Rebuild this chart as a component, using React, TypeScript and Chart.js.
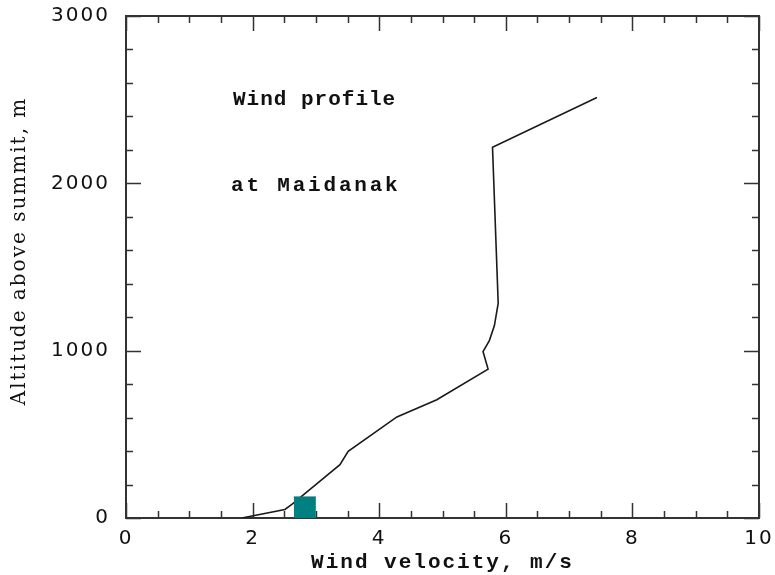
import { useEffect, useRef } from 'react';
import { Chart, registerables } from 'chart.js';

Chart.register(...registerables);

// Wind profile (m/s) vs altitude above summit (m)
const windSpeed = [1.83, 2.51, 2.62, 3.38, 3.51, 4.28, 4.91, 5.72, 5.64, 5.74, 5.82, 5.88, 5.79, 7.44];
const altitude = [0, 51, 81, 319, 399, 604, 707, 890, 995, 1060, 1150, 1284, 2215, 2513];

// Filled square marker near the ground (top edge, filled down to the axis)
const markerSpeed = [2.65, 3.0];
const markerAltitude = [126, 126];

const xMin = 0;
const xMax = 10;
const xMajorStep = 2;
const xMinorStep = 0.5;
const yMin = 0;
const yMax = 3000;
const yMajorStep = 1000;
const yMinorStep = 200;

const xTitle = 'Wind velocity, m/s';
const yTitle = 'Altitude above summit, m';
const noteLines = ['Wind profile', 'at Maidanak'];
const noteSpeed = [1.69, 1.66];
const noteAltitude = [2497, 1984];
const noteSpacing = ['1px', '2.8px'];

const AXIS_COLOR = '#333333';

const framePlugin = {
  id: 'frameTicks',
  beforeDraw(chart: any) {
    chart.ctx.letterSpacing = '2px';
  },
  beforeDatasetsDraw(chart: any) {
    const { ctx, chartArea: a, scales } = chart;
    const xs = scales.x;
    const ys = scales.y;
    ctx.save();
    ctx.strokeStyle = AXIS_COLOR;
    ctx.lineWidth = 2;
    ctx.strokeRect(a.left, a.top, a.right - a.left, a.bottom - a.top);
    ctx.lineWidth = 1.5;
    ctx.beginPath();
    for (let v = xMin; v <= xMax + 1e-9; v += xMinorStep) {
      const major = Math.abs(v / xMajorStep - Math.round(v / xMajorStep)) < 1e-6;
      const len = major ? 15 : 7;
      const px = Math.round(xs.getPixelForValue(v)) + 0.5;
      ctx.moveTo(px, a.bottom);
      ctx.lineTo(px, a.bottom - len);
      ctx.moveTo(px, a.top);
      ctx.lineTo(px, a.top + len);
    }
    for (let v = yMin; v <= yMax + 1e-9; v += yMinorStep) {
      const major = Math.abs(v / yMajorStep - Math.round(v / yMajorStep)) < 1e-6;
      const len = major ? 15 : 7;
      const py = Math.round(ys.getPixelForValue(v)) + 0.5;
      ctx.moveTo(a.left, py);
      ctx.lineTo(a.left + len, py);
      ctx.moveTo(a.right, py);
      ctx.lineTo(a.right - len, py);
    }
    ctx.stroke();
    ctx.restore();
  },
  afterDraw(chart: any) {
    const { ctx, scales } = chart;
    const xs = scales.x;
    const ys = scales.y;
    ctx.save();
    ctx.fillStyle = '#111';
    ctx.font = 'bold 21px "Liberation Mono"';
    ctx.textBaseline = 'middle';
    ctx.textAlign = 'left';
    noteLines.forEach((t, i) => {
      ctx.letterSpacing = noteSpacing[i];
      ctx.fillText(t, xs.getPixelForValue(noteSpeed[i]), ys.getPixelForValue(noteAltitude[i]));
    });

    // y-axis title
    ctx.font = '20px "DejaVu Serif"';
    ctx.letterSpacing = '2px';
    ctx.textAlign = 'center';
    ctx.translate(20, 251);
    ctx.rotate(-Math.PI / 2);
    ctx.fillText(yTitle, 0, 0);
    ctx.restore();
    ctx.letterSpacing = '0px';
  },
};

export default function App() {
  const ref = useRef<HTMLCanvasElement | null>(null);

  useEffect(() => {
    document.body.style.margin = '0';
    const canvas = ref.current;
    if (!canvas) return;
    const chart = new Chart(canvas, {
      type: 'line',
      data: {
        datasets: [
          {
            label: 'Marker',
            data: markerSpeed.map((x, i) => ({ x, y: markerAltitude[i] })),
            borderWidth: 1,
            borderColor: '#008080',
            backgroundColor: '#008080',
            fill: 'origin',
            pointRadius: 0,
            tension: 0,
          },
          {
            label: 'Wind profile',
            data: windSpeed.map((x, i) => ({ x, y: altitude[i] })),
            borderColor: '#1a1a1a',
            borderWidth: 1.6,
            pointRadius: 0,
            fill: false,
            tension: 0,
          },
        ],
      },
      options: {
        animation: false,
        responsive: false,
        maintainAspectRatio: false,
        layout: { padding: { top: 16, right: 16, left: 0, bottom: 0 } },
        plugins: {
          legend: { display: false },
          tooltip: { enabled: false },
        },
        scales: {
          x: {
            type: 'linear',
            min: xMin,
            max: xMax,
            grid: { display: false, drawTicks: false },
            border: { display: false },
            ticks: {
              stepSize: xMajorStep,
              color: '#111',
              padding: 9,
              maxRotation: 0,
              font: { family: '"DejaVu Sans"', size: 20 },
              callback: (v: any) => String(v),
            },
            title: {
              display: true,
              text: xTitle,
              color: '#111',
              font: { family: '"Liberation Mono"', size: 21, weight: 'bold' },
              padding: { top: 0, bottom: 0 },
            },
            afterFit(scale: any) {
              scale.height = 57;
              scale.paddingLeft = 0;
              scale.paddingRight = 0;
            },
          },
          y: {
            type: 'linear',
            min: yMin,
            max: yMax,
            grid: { display: false, drawTicks: false },
            border: { display: false },
            ticks: {
              stepSize: yMajorStep,
              color: '#111',
              padding: 16,
              font: { family: '"DejaVu Sans"', size: 20 },
              callback: (v: any) => String(v),
            },
            title: { display: false },
            afterFit(scale: any) {
              scale.width = 126;
              scale.paddingTop = 0;
              scale.paddingBottom = 0;
            },
          },
        },
      },
      plugins: [framePlugin],
    });
    return () => chart.destroy();
  }, []);

  return <canvas ref={ref} width={775} height={575} style={{ display: 'block' }} />;
}
